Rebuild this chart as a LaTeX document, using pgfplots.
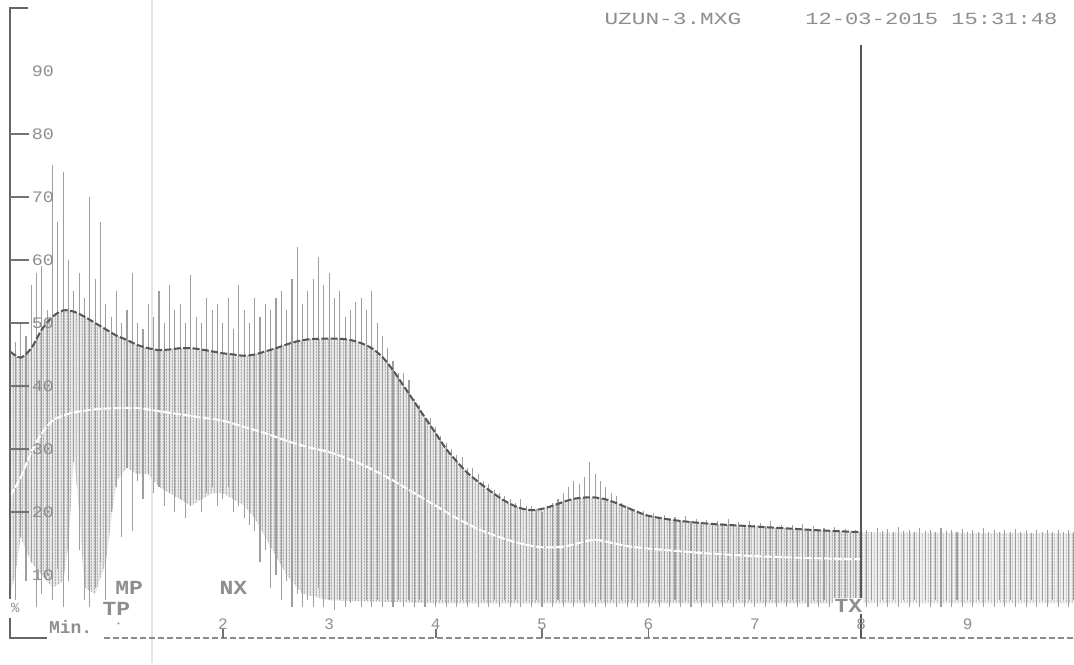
\documentclass[border=0pt]{standalone}
\usepackage{fontspec}
\usepackage{graphicx}
\usepackage{pgfplots}
\usepackage{pgfplotstable}
\usetikzlibrary{patterns.meta}
\pgfplotsset{compat=1.18}
\newfontfamily\mono{Liberation Mono}
\definecolor{txt}{HTML}{8E8E8E}
\definecolor{dk}{HTML}{555555}
\tikzdeclarepattern{
  name=vstripes, type=uncolored,
  bounding box={(0,0) and (1.5pt,1.5pt)},
  tile size={(1.5pt,1.5pt)},
  code={\pgfsetlinewidth{0.5pt}\pgfpathmoveto{\pgfqpoint{0.75pt}{-0.1pt}}\pgfpathlineto{\pgfqpoint{0.75pt}{1.6pt}}\pgfusepath{stroke}}
}

\pgfplotstableread{
x lo hi
0.00 8 42
0.05 6 47
0.10 16 50
0.15 9 48
0.20 12 56
0.25 5 58
0.30 7 59
0.35 10 52
0.40 6 75
0.45 11 66
0.50 5 74
0.55 9 60
0.60 28 55
0.65 14 58
0.70 6 54
0.75 5 70
0.80 8 57
0.85 12 66
0.90 6 53
0.95 20 51
1.00 24 55
1.05 16 50
1.10 27 52
1.15 17 58
1.20 25 50
1.25 22 49
1.30 26 53
1.35 23 51
1.40 24 55
1.45 21 50
1.50 23 56
1.55 20 52
1.60 22 53
1.65 19 50
1.70 21 57.6
1.75 22 51
1.80 20 50
1.85 23 54
1.90 24 52
1.95 21 53
2.00 22 50
2.05 24 54
2.10 20 49
2.15 21 56
2.20 19 52
2.25 18 50
2.30 17 54
2.35 12 51
2.40 14 53
2.45 8 52
2.50 10 54
2.55 6 55
2.60 9 52
2.65 5 57
2.70 7 62
2.75 5 53
2.80 6 55
2.85 5 57
2.90 8 60.5
2.95 5 56
3.00 6 58
3.05 4.5 54
3.10 6 55
3.15 5 51
3.20 5.5 52
3.25 6 53.3
3.30 5 54
3.35 6 52
3.40 5 55
3.45 6 50
3.50 5 48
3.55 6 46
3.60 5 44
3.65 6 42
3.70 5 42
3.75 6 41
3.80 5 38
3.85 6 37
3.90 5 35
3.95 6 35
4.00 5 33.5
4.05 6 32
4.10 5 31
4.15 6 30
4.20 5 29
4.25 6 28.7
4.30 5 27
4.35 6 27
4.40 5 26
4.45 6 25
4.50 5 24.5
4.55 6 23.5
4.60 5 23
4.65 6 22.5
4.70 5 22
4.75 6 21.5
4.80 5 22
4.85 6 21
4.90 5 21
4.95 6 20.5
5.00 5 20
5.05 6 21
5.10 5 21.5
5.15 6 22
5.20 5 23
5.25 6 24
5.30 5 25
5.35 6 24.5
5.40 5 25.5
5.45 6 28
5.50 5 26
5.55 6 25
5.60 5 24
5.65 6 23
5.70 5 22.5
5.75 6 21.5
5.80 5 21
5.85 6 20.5
5.90 5 20
5.95 6 20.2
6.00 5 19.6
6.05 6 19.8
6.10 5 19.2
6.15 6 19.5
6.20 5 19
6.25 6 19.2
6.30 5 18.8
6.35 6 19.3
6.40 5 18.6
6.45 6 18.9
6.50 5 18.4
6.55 6 18.8
6.60 5 18.3
6.65 6 18.5
6.70 5 18.2
6.75 6 18.9
6.80 5 18.1
6.85 6 18.4
6.90 5 18
6.95 6 18.6
7.00 5 17.9
7.05 6 18.3
7.10 5 17.8
7.15 6 18.5
7.20 5 17.6
7.25 6 18
7.30 5 17.5
7.35 6 17.9
7.40 5 17.4
7.45 6 18.1
7.50 5 17.3
7.55 6 17.7
7.60 5 17.2
7.65 6 17.5
7.70 5 17.1
7.75 6 17.6
7.80 5 17
7.85 6 17.3
7.90 5 16.9
7.95 6 17.2
8.00 5 16.8
8.05 5 17.2
8.10 6 16.9
8.15 5 17.5
8.20 6 17
8.25 5 17.3
8.30 6 16.8
8.35 5 17.6
8.40 6 17
8.45 5 17.2
8.50 6 16.9
8.55 5 17.4
8.60 6 17
8.65 5 17.2
8.70 6 16.8
8.75 5 17.5
8.80 6 17
8.85 5 17.1
8.90 6 16.8
8.95 5 17.3
9.00 6 16.9
9.05 5 17.2
9.10 6 16.8
9.15 5 17.4
9.20 6 16.9
9.25 5 17.1
9.30 6 16.8
9.35 5 17.2
9.40 6 16.8
9.45 5 17.3
9.50 6 16.9
9.55 5 17.1
9.60 6 16.7
9.65 5 17.2
9.70 6 16.8
9.75 5 17.1
9.80 6 16.9
9.85 5 17.2
9.90 6 16.8
9.95 5 17.1
10.00 6 16.9
}\spikes

\begin{document}
\begin{tikzpicture}
\begin{axis}[
  at={(5pt,13pt)}, anchor=south west,
  scale only axis, width=532pt, height=315pt,
  xmin=0, xmax=10, ymin=0, ymax=100,
  axis lines=none, xtick=\empty, ytick=\empty,
  clip=false,
]
% faint vertical guide
\draw[black!10, line width=0.6pt] (axis cs:1.335,-4) -- (axis cs:1.335,104);

% dense core band (0-8 min)
\addplot[fill=black!8, draw=none, forget plot, postaction={pattern=vstripes, pattern color=black!40}] coordinates {
(0.0,45.5)(0.1,44.5)(0.2,46)(0.3,49)(0.4,51)(0.5,52)(0.6,51.8)(0.7,51)(0.8,50)(0.9,49)
(1.0,48)(1.1,47.3)(1.2,46.5)(1.3,46)(1.4,45.7)(1.5,45.8)(1.6,46)(1.7,46)(1.8,45.8)(1.9,45.5)
(2.0,45.2)(2.1,45)(2.2,44.8)(2.3,45)(2.4,45.5)(2.5,46)(2.6,46.6)(2.7,47.1)(2.8,47.4)(2.9,47.5)
(3.0,47.5)(3.1,47.5)(3.2,47.3)(3.3,46.8)(3.4,46)(3.5,44.6)(3.6,42.5)(3.7,40)(3.8,37.5)(3.9,35)
(4.0,32.5)(4.1,30)(4.2,28)(4.3,26.2)(4.4,24.8)(4.5,23.5)(4.6,22.3)(4.7,21.3)(4.8,20.6)(4.9,20.3)
(5.0,20.5)(5.1,21)(5.2,21.6)(5.3,22.1)(5.4,22.3)(5.5,22.3)(5.6,22)(5.7,21.4)(5.8,20.7)(5.9,20)
(6.0,19.4)(6.2,18.8)(6.4,18.4)(6.6,18.1)(6.8,17.9)(7.0,17.7)(7.3,17.4)(7.6,17.1)(8.0,16.8)
(8.0,5.5)(6.0,5.5)(4.0,5.5)(3.0,6)(2.75,7)(2.6,10)(2.5,13)(2.4,16)(2.3,19)(2.2,21)(2.1,22)
(2.0,23)(1.9,23)(1.8,22)(1.7,21)(1.6,22)(1.5,23)(1.4,24)(1.3,26)(1.2,26)(1.1,27)(1.0,25)
(0.9,12)(0.8,7)(0.7,8)(0.65,20)(0.6,29)(0.55,15)(0.5,9)(0.4,8)(0.3,10)(0.2,12)(0.15,14)
(0.1,16)(0.05,10)(0.0,7)
};
% lighter band after 8 min
\addplot[fill=black!5, draw=none, forget plot, postaction={pattern=vstripes, pattern color=black!30}] coordinates {
(8.0,16.8)(9.0,16.7)(10.0,16.7)(10.0,5.5)(9.0,5.5)(8.0,5.5)
};

% oscillation strokes
\addplot[draw=none, mark=none, forget plot,
  error bars/.cd, y dir=minus, y explicit, error mark=none,
  error bar style={draw=black!38, line width=0.55pt}]
  table[x=x, y=hi, y error expr=\thisrow{hi}-\thisrow{lo}] {\spikes};

% upper smoothed curve (dashed)
\addplot[dk, line width=1pt, dash pattern=on 3.5pt off 1.2pt, smooth] coordinates {
(0.0,45.5)(0.1,44.5)(0.2,46)(0.3,49)(0.4,51)(0.5,52)(0.6,51.8)(0.7,51)(0.8,50)(0.9,49)
(1.0,48)(1.1,47.3)(1.2,46.5)(1.3,46)(1.4,45.7)(1.5,45.8)(1.6,46)(1.7,46)(1.8,45.8)(1.9,45.5)
(2.0,45.2)(2.1,45)(2.2,44.8)(2.3,45)(2.4,45.5)(2.5,46)(2.6,46.6)(2.7,47.1)(2.8,47.4)(2.9,47.5)
(3.0,47.5)(3.1,47.5)(3.2,47.3)(3.3,46.8)(3.4,46)(3.5,44.6)(3.6,42.5)(3.7,40)(3.8,37.5)(3.9,35)
(4.0,32.5)(4.1,30)(4.2,28)(4.3,26.2)(4.4,24.8)(4.5,23.5)(4.6,22.3)(4.7,21.3)(4.8,20.6)(4.9,20.3)
(5.0,20.5)(5.1,21)(5.2,21.6)(5.3,22.1)(5.4,22.3)(5.5,22.3)(5.6,22)(5.7,21.4)(5.8,20.7)(5.9,20)
(6.0,19.4)(6.2,18.8)(6.4,18.4)(6.6,18.1)(6.8,17.9)(7.0,17.7)(7.3,17.4)(7.6,17.1)(8.0,16.8)
};

% midline (white)
\addplot[white, line width=1pt, dash pattern=on 4pt off 1pt, smooth] coordinates {
(0.0,22.5)(0.1,25.5)(0.2,29.5)(0.3,32.5)(0.4,34.5)(0.5,35.3)(0.6,35.8)(0.8,36.3)(1.0,36.5)
(1.2,36.5)(1.4,36)(1.6,35.5)(1.8,35)(2.0,34.5)(2.2,33.5)(2.4,32.5)(2.6,31.3)(2.8,30.3)
(3.0,29.5)(3.2,28.3)(3.4,26.8)(3.6,25)(3.8,23)(4.0,21)(4.2,19)(4.4,17.3)(4.6,16)(4.8,15)
(5.0,14.4)(5.2,14.5)(5.4,15.3)(5.5,15.6)(5.6,15.3)(5.8,14.6)(6.0,14.2)(6.5,13.5)(7.0,13)
(7.5,12.7)(8.0,12.5)
};

% frame pieces
\draw[black!60, line width=1pt] (axis cs:0.17,100) -- (axis cs:0,100) -- (axis cs:0,6.2);
\draw[black!60, line width=1pt] (axis cs:0,3.2) -- (axis cs:0,0) -- (axis cs:0.35,0);
\draw[black!45, line width=0.8pt, dash pattern=on 3pt off 1.5pt] (axis cs:0.88,0) -- (axis cs:10,0);
\pgfplotsinvokeforeach{20,30,40,50,60,70,80}{
  \draw[black!55, line width=0.9pt] (axis cs:0,#1) -- (axis cs:0.18,#1);
}
\pgfplotsinvokeforeach{2,4,5,6}{
  \draw[black!55, line width=0.9pt] (axis cs:#1,0) -- (axis cs:#1,1.4);
}
\draw[dk, line width=1.1pt] (axis cs:8,0) -- (axis cs:8,94.1);
\fill[txt] (axis cs:1.02,2.3) circle (0.55pt);

% y labels
\pgfplotsinvokeforeach{10,20,30,40,50,60,70,80,90}{
  \node[txt, font=\mono\fontsize{8}{8}\selectfont, inner sep=0pt] at (axis cs:0.31,#1) {\scalebox{1.15}[1]{#1}};
}
% x labels
\pgfplotsinvokeforeach{2,3,4,5,6,7,8,9}{
  \node[txt, font=\mono\fontsize{8}{8}\selectfont, inner sep=0pt] at (axis cs:#1,2.2) {#1};
}

% markers
\node[txt, font=\mono\bfseries\fontsize{10}{10}\selectfont, inner sep=0pt] at (axis cs:1.12,7.9) {\scalebox{1.15}[1]{MP}};
\node[txt, font=\mono\bfseries\fontsize{10}{10}\selectfont, inner sep=0pt] at (axis cs:1.0,4.6) {\scalebox{1.15}[1]{TP}};
\node[txt, font=\mono\bfseries\fontsize{10}{10}\selectfont, inner sep=0pt] at (axis cs:2.1,7.9) {\scalebox{1.15}[1]{NX}};
\node[txt, fill=white, font=\mono\bfseries\fontsize{10}{10}\selectfont, inner sep=0.6pt] at (axis cs:7.88,5.1) {\scalebox{1.15}[1]{TX}};
\node[txt, font=\mono\fontsize{7}{7}\selectfont, inner sep=0pt] at (axis cs:0.05,4.8) {\%};
\node[txt, font=\mono\bfseries\fontsize{9}{9}\selectfont, inner sep=0pt] at (axis cs:0.57,1.7) {Min.};

% header
\node[txt, font=\mono\fontsize{8.5}{8.5}\selectfont, inner sep=0pt] at (axis cs:6.23,98.3) {\scalebox{1.34}[1]{UZUN-3.MXG}};
\node[txt, font=\mono\fontsize{8.5}{8.5}\selectfont, inner sep=0pt] at (axis cs:8.66,98.3) {\scalebox{1.3}[1]{12-03-2015 15:31:48}};
\end{axis}
\pgfresetboundingbox
\path[use as bounding box] (0,0) rectangle (537pt,332pt);
\end{tikzpicture}
\end{document}
